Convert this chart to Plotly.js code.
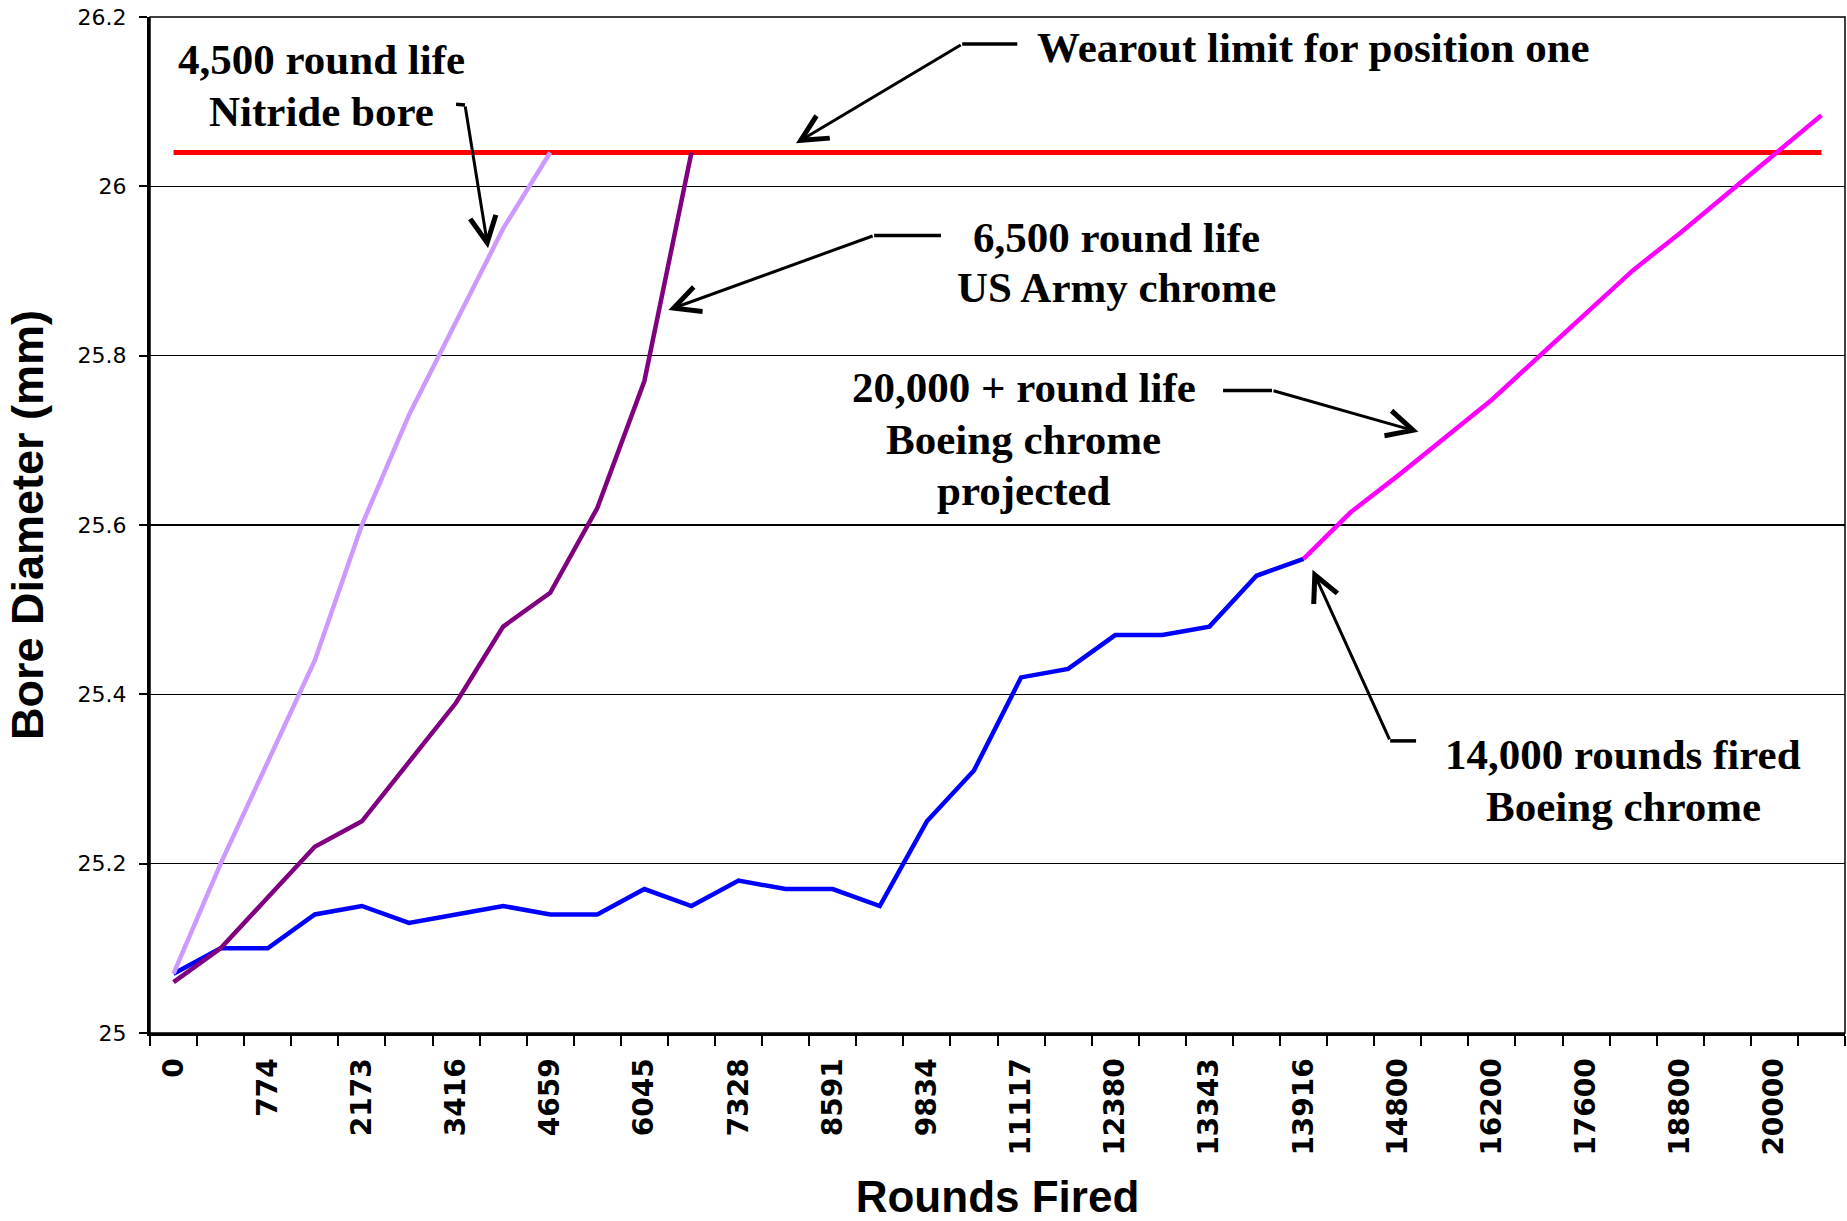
<!DOCTYPE html>
<html>
<head>
<meta charset="utf-8">
<script src="https://cdn.plot.ly/plotly-3.0.1.min.js"></script>
<style>html,body{margin:0;padding:0;background:#fff}</style>
</head>
<body>
<div id="graph" style="width:1847px;height:1221px"></div>
<script>
// Bore wear vs rounds fired, Excel style category chart (36 categories, every other one labelled)
var nCategories = 36;
var roundLabels = ["0","774","2173","3416","4659","6045","7328","8591","9834","11117",
                   "12380","13343","13916","14800","16200","17600","18800","20000"];

var limitCats = [0, 35];
var limitValues = [26.04, 26.04];

var boeingMeasured = [25.07,25.10,25.10,25.14,25.15,25.13,25.14,25.15,25.14,25.14,25.17,25.15,25.18,
                      25.17,25.17,25.15,25.25,25.31,25.42,25.43,25.47,25.47,25.48,25.54,25.56];
var nitrideBore = [25.07,25.20,25.32,25.44,25.60,25.73,25.84,25.95,26.04];
var armyChrome = [25.06,25.10,25.16,25.22,25.25,25.32,25.39,25.48,25.52,25.62,25.77,26.04];
var projectedStart = 24;
var boeingProjected = [25.56,25.615,25.658,25.703,25.748,25.799,25.850,25.901,25.945,25.991,26.038,26.084];

function catIndex(n, start) {
  var out = [];
  for (var i = 0; i < n; i++) out.push((start || 0) + i);
  return out;
}

function lineTrace(x, y, color, width) {
  return {
    x: x, y: y,
    mode: "lines", type: "scatter",
    line: {color: color, width: width || 4.5},
    hoverinfo: "skip",
    showlegend: false
  };
}

var data = [
  lineTrace(limitCats, limitValues, "#FF0000", 5),
  lineTrace(catIndex(boeingMeasured.length), boeingMeasured, "#0000FF"),
  lineTrace(catIndex(nitrideBore.length), nitrideBore, "#CC99FF"),
  lineTrace(catIndex(armyChrome.length), armyChrome, "#800080"),
  lineTrace(catIndex(boeingProjected.length, projectedStart), boeingProjected, "#FF00FF")
];

var labelVals = [];
for (var k = 0; k < roundLabels.length; k++) labelVals.push(2 * k);

// callouts: elbow -> tip (arrow), plus short horizontal leader from text to elbow
var callouts = [
  {lead: [17.92, 26.168], elbow: [16.75, 26.168], tip: [13.22, 26.051]},
  {lead: [6.00, 26.097],  elbow: [6.19, 26.096],  tip: [6.68, 25.927]},
  {lead: [16.30, 25.942], elbow: [14.88, 25.942], tip: [10.51, 25.854]},
  {lead: [22.29, 25.759], elbow: [23.33, 25.759], tip: [26.44, 25.710]},
  {lead: [26.39, 25.345], elbow: [25.84, 25.345], tip: [24.19, 25.547]}
];

var serif = {family: "Liberation Serif, Times New Roman, serif", size: 43, color: "#000", weight: "bold"};
// one entry per text line so the line spacing follows the original
var notes = [
  {x: 3.15,  y: 26.150, text: "4,500 round life"},
  {x: 3.15,  y: 26.088, text: "Nitride bore"},
  {x: 24.22, y: 26.164, text: "Wearout limit for position one"},
  {x: 20.02, y: 25.940, text: "6,500 round life"},
  {x: 20.02, y: 25.880, text: "US Army chrome"},
  {x: 18.06, y: 25.762, text: "20,000 + round life"},
  {x: 18.06, y: 25.701, text: "Boeing chrome"},
  {x: 18.06, y: 25.641, text: "projected"},
  {x: 30.79, y: 25.329, text: "14,000 rounds fired"},
  {x: 30.79, y: 25.268, text: "Boeing chrome"}
];

var annotations = [];
var shapes = [];
notes.forEach(function (n) {
  annotations.push({x: n.x, y: n.y, xref: "x", yref: "y", text: n.text, showarrow: false,
                    font: serif, align: "center", xanchor: "center", yanchor: "middle"});
});
callouts.forEach(function (c) {
  annotations.push({x: c.tip[0], y: c.tip[1], xref: "x", yref: "y",
                    ax: c.elbow[0], ay: c.elbow[1], axref: "x", ayref: "y",
                    text: "", showarrow: true, arrowhead: 5, arrowsize: 1.7,
                    arrowwidth: 3, arrowcolor: "#000", standoff: 0, startstandoff: 0});
  shapes.push({type: "line", xref: "x", yref: "y", x0: c.lead[0], y0: c.lead[1],
               x1: c.elbow[0], y1: c.elbow[1], line: {color: "#000", width: 3.5}});
});
// thin plot-area border
shapes.push({type: "rect", xref: "paper", yref: "paper", x0: 0, y0: 0, x1: 1, y1: 1,
             line: {color: "#000", width: 1.5}, layer: "below"});

var layout = {
  width: 1847, height: 1221,
  margin: {l: 150, r: 2, t: 17, b: 188},
  paper_bgcolor: "#fff", plot_bgcolor: "#fff",
  showlegend: false,
  xaxis: {
    range: [-0.5, nCategories - 0.5],
    tickmode: "array", tickvals: labelVals, ticktext: roundLabels,
    ticks: "", tickangle: -90,
    ticklabelstandoff: 11,
    tickfont: {family: "DejaVu Sans, Arial, sans-serif", size: 28, color: "#000", weight: "bold"},
    minor: {ticks: "outside", tickmode: "linear", tick0: -0.5, dtick: 1, ticklen: 10,
            tickwidth: 2, tickcolor: "#000", showgrid: false},
    showgrid: false, zeroline: false,
    showline: true, linecolor: "#000", linewidth: 3,
    title: {text: "Rounds Fired", standoff: 31,
            font: {family: "Liberation Sans, Arial, sans-serif", size: 44, color: "#000", weight: "bold"}}
  },
  yaxis: {
    range: [25, 26.2], dtick: 0.2, tick0: 25,
    ticks: "outside", ticklen: 8, tickwidth: 2, tickcolor: "#000",
    ticklabelstandoff: 8,
    tickfont: {family: "DejaVu Sans, Arial, sans-serif", size: 22, color: "#000"},
    showgrid: true, gridcolor: "#000", gridwidth: 1.5,
    zeroline: false,
    showline: true, linecolor: "#000", linewidth: 3,
    title: {text: "Bore Diameter (mm)", standoff: 20,
            font: {family: "Liberation Sans, Arial, sans-serif", size: 45, color: "#000", weight: "bold"}}
  },
  annotations: annotations,
  shapes: shapes
};

Plotly.newPlot(document.getElementById("graph"), data, layout, {staticPlot: true, displayModeBar: false});
</script>
</body>
</html>
